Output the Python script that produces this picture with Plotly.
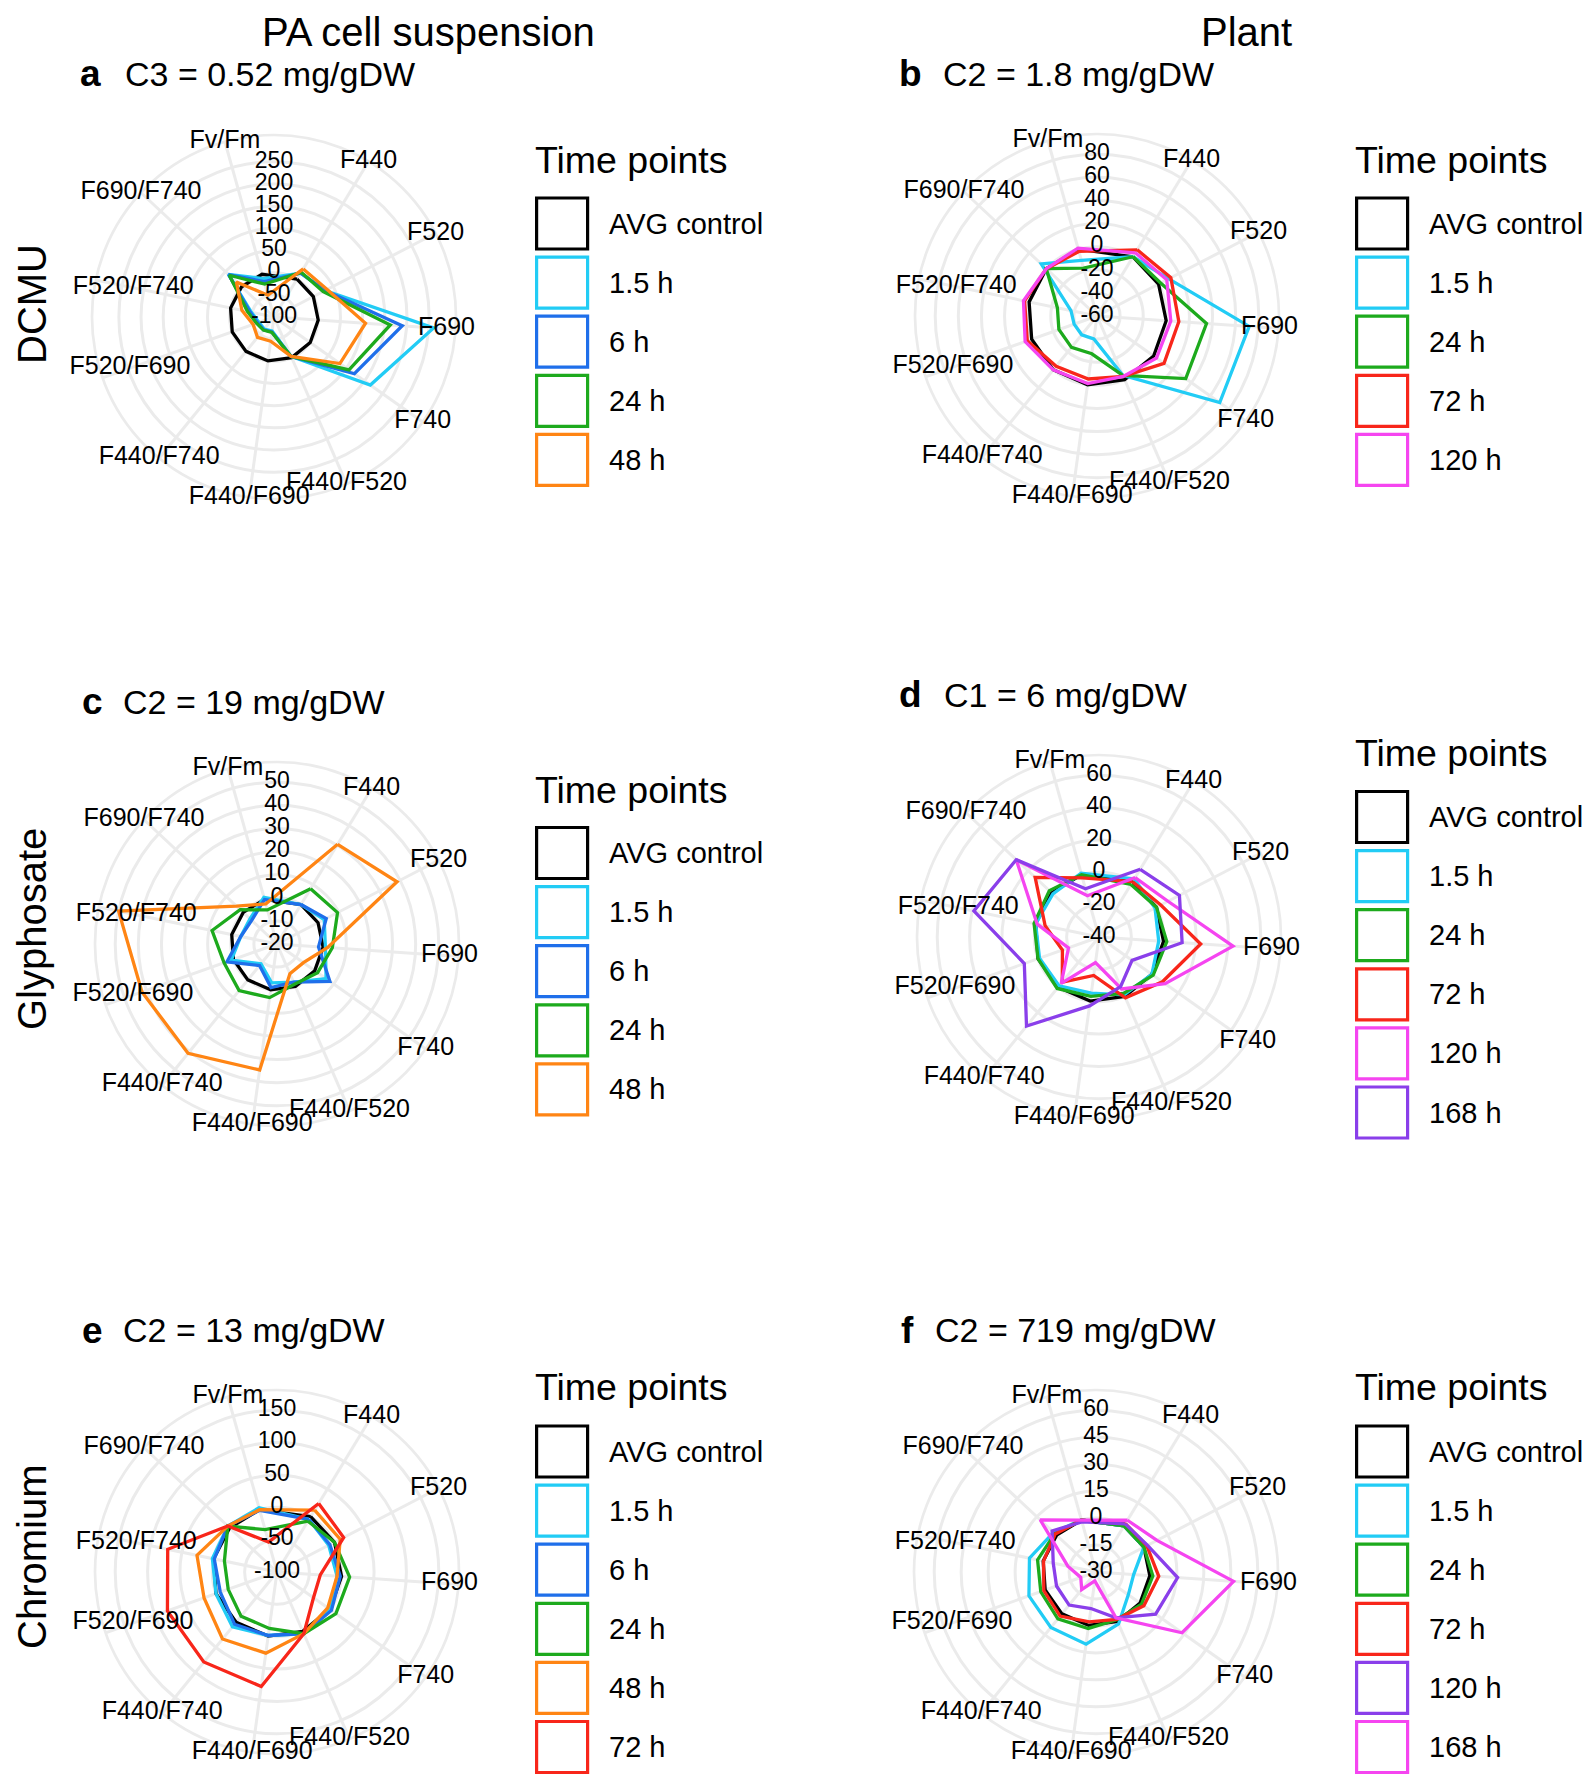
import plotly.graph_objects as go

# The page body has an 8 px margin, so the figure is made 16 px smaller and
# every reference pixel position is shifted by OFF.
OFF = 8
W, H = 1595 - 2 * OFF, 1784 - 2 * OFF
FONT = "Liberation Sans, Arial, Helvetica, sans-serif"
GRID = "#EBEBEB"

# ---------------- data ----------------
CATEGORIES = ["F440", "F520", "F690", "F740", "F440/F520", "F440/F690",
              "F440/F740", "F520/F690", "F520/F740", "F690/F740", "Fv/Fm"]

AVG_CONTROL = [0, 0, 0, 0, 0, 0, 0, 0, 0, 0, 0]

# a  DCMU, PA cell suspension
A_1_5H = [16, 30, 261, 166, -3, -68, -65, -64, -48, 41, -10]
A_6H = [16, 30, 190, 122, -3, -66, -63, -61, -45, 40, -17]
A_24H = [18, 25, 163, 107, -3, -65, -62, -58, -39, 38, -23]
A_48H = [27, 35, 107, 82, -3, -45, -41, -50, -26, 16, -49]
A_TICKS = [-100, -50, 0, 50, 100, 150, 200, 250]

# b  DCMU, plant
B_1_5H = [0, 10, 72, 70, -4, -40, -39, -39, -37, 6, -10]
B_24H = [0, 2, 35, 34, -4, -27, -25, -25, -25, 0, -17]
B_72H = [7, 12, 11, 11, -3, -5, -4, 4, 4, 0, -2]
B_120H = [4, 8, 4, 3, -3, -1, 0, 6, 5, 0, 1]
B_TICKS = [-60, -40, -20, 0, 20, 40, 60, 80]

# c  Glyphosate, PA cell suspension
C_1_5H = [0, 3, 1, 6, -2, -3, -9, 1, -4, -4, 1]
C_6H = [0, 4, -2, 8, -2, -1, -8, 3, -4, -5, 0]
C_24H = [8, 9.5, 4, 1.5, -1, 3.4, 6, 4.3, 8.7, 1.8, -4.7]
C_48H = [30.5, 38.5, 2, -6, -6, 35, 41, 42, 50, 4, -2]
C_TICKS = [-20, -10, 0, 10, 20, 30, 40, 50]

# d  Glyphosate, plant
D_1_5H = [2, -1, -3, 0, -1, -5, -1, -1, 0, -1, 1]
D_24H = [-2, 0, 2, 1, -2, -3, 1, 0, 1, 2, 0]
D_72H = [0, 3, 23, 8, 1, -16, -4, -16, -6, 14, -2]
D_120H = [3, 8, 43, 10, -5, -24, -3, -20, -1, 30, -13.5]
D_168H = [9, 16, 11.5, -15, -6.5, 3, 31, 9, 39, 30, -9]
D_TICKS = [-40, -20, 0, 20, 40, 60]

# e  Chromium, PA cell suspension
E_1_5H = [-5, -10, -7, 0, 4, -1, 9, 0, 2, 4, 3]
E_6H = [-5, -8, -2, 3, 4, -1, 4, -7, -1, 4, -1]
E_24H = [-8, 0, 12.5, 11.4, 4, -12, -12, -20, -17, 4, -32]
E_48H = [12, 10, -7, -4, 4, 26.5, 33.5, 19.6, 26.3, 4, 0]
E_72H = [24, 16, -33, -31, 4, 78.6, 79.3, 79.7, 72.5, 4, -52]
E_TICKS = [-100, -50, 0, 50, 100, 150]

# f  Chromium, plant
F_1_5H = [0, 0, -9, -8, 1.5, 10.5, 9.8, 9.6, 7.8, 2.3, 0]
F_24H = [0, 0, 1.7, 1, -1, 1.7, 3.6, 2.6, 3.2, 1.3, 0]
F_72H = [1.5, 1.8, 5, 2.6, -1.3, -2, 1.6, 0.8, -0.2, 1, 0]
F_120H = [1.3, 2.3, 15.5, 10.6, -2.2, -9.5, -6.3, -6.7, -5.7, 3.4, -1]
F_168H = [3.7, 8.2, 46.7, 28.6, -2.2, -25, -17.4, -21, -14, 12.4, 0]
F_TICKS = [-30, -15, 0, 15, 30, 45, 60]

# ---------------- styles ----------------
COL = {
    "AVG control": "#000000",
    "1.5 h": "#22CCF5",
    "6 h": "#1F6FEA",
    "24 h": "#1DAA1D",
    "48 h": "#FF8514",
    "72 h": "#F8261A",
    "magenta": "#F545F0",
    "purple": "#8A3FEA",
}
# radial position of each category label, as a fraction of the outer ring
LABEL_FRAC = [1.0, 1.0, 0.95, 1.0, 1.0, 1.0, 1.0, 0.84, 0.79, 1.0, 1.0]

panels = [
    dict(letter="a", title="C3 = 0.52 mg/gDW", cx=274, cy=317, rmin=-100, rmax=265, ticks=A_TICKS,
         letter_xy=(78, 74), title_x=123, leg_x=534, leg_title_y=160, leg_first=223.5,
         series=[("AVG control", AVG_CONTROL, COL["AVG control"]), ("1.5 h", A_1_5H, COL["1.5 h"]),
                 ("6 h", A_6H, COL["6 h"]), ("24 h", A_24H, COL["24 h"]), ("48 h", A_48H, COL["48 h"])]),
    dict(letter="b", title="C2 = 1.8 mg/gDW", cx=1097, cy=316, rmin=-60, rmax=80, ticks=B_TICKS,
         letter_xy=(897, 74), title_x=941, leg_x=1354, leg_title_y=160, leg_first=223.5,
         series=[("AVG control", AVG_CONTROL, COL["AVG control"]), ("1.5 h", B_1_5H, COL["1.5 h"]),
                 ("24 h", B_24H, COL["24 h"]), ("72 h", B_72H, COL["72 h"]), ("120 h", B_120H, COL["magenta"])]),
    dict(letter="c", title="C2 = 19 mg/gDW", cx=277, cy=944, rmin=-20, rmax=50, ticks=C_TICKS,
         letter_xy=(80, 702), title_x=121, leg_x=534, leg_title_y=790, leg_first=853,
         series=[("AVG control", AVG_CONTROL, COL["AVG control"]), ("1.5 h", C_1_5H, COL["1.5 h"]),
                 ("6 h", C_6H, COL["6 h"]), ("24 h", C_24H, COL["24 h"]), ("48 h", C_48H, COL["48 h"])]),
    dict(letter="d", title="C1 = 6 mg/gDW", cx=1099, cy=937, rmin=-40, rmax=60, ticks=D_TICKS,
         letter_xy=(897, 695), title_x=942, leg_x=1354, leg_title_y=753, leg_first=817,
         series=[("AVG control", AVG_CONTROL, COL["AVG control"]), ("1.5 h", D_1_5H, COL["1.5 h"]),
                 ("24 h", D_24H, COL["24 h"]), ("72 h", D_72H, COL["72 h"]),
                 ("120 h", D_120H, COL["magenta"]), ("168 h", D_168H, COL["purple"])]),
    dict(letter="e", title="C2 = 13 mg/gDW", cx=277, cy=1572, rmin=-100, rmax=150, ticks=E_TICKS,
         letter_xy=(80, 1330), title_x=121, leg_x=534, leg_title_y=1387, leg_first=1451.5,
         series=[("AVG control", AVG_CONTROL, COL["AVG control"]), ("1.5 h", E_1_5H, COL["1.5 h"]),
                 ("6 h", E_6H, COL["6 h"]), ("24 h", E_24H, COL["24 h"]),
                 ("48 h", E_48H, COL["48 h"]), ("72 h", E_72H, COL["72 h"])]),
    dict(letter="f", title="C2 = 719 mg/gDW", cx=1096, cy=1572, rmin=-30, rmax=60, ticks=F_TICKS,
         letter_xy=(899, 1330), title_x=933, leg_x=1354, leg_title_y=1387, leg_first=1451.5,
         series=[("AVG control", AVG_CONTROL, COL["AVG control"]), ("1.5 h", F_1_5H, COL["1.5 h"]),
                 ("24 h", F_24H, COL["24 h"]), ("72 h", F_72H, COL["72 h"]),
                 ("120 h", F_120H, COL["purple"]), ("168 h", F_168H, COL["magenta"])]),
]

R_PX = 182          # outer ring radius in px
LEG_PITCH = 59.1
SQ = 51
LW = 3.2


def px(x):
    return (x - OFF) / W


def py(y):
    return 1 - (y - OFF) / H


fig = go.Figure()
annotations = []
shapes = []
layout_polars = {}

for i, p in enumerate(panels):
    main = "polar" if i == 0 else f"polar{2 * i + 1}"
    over = f"polar{2 * i + 2}"
    rout = p["rmin"] + 1.125 * (p["rmax"] - p["rmin"])
    cx, cy = p["cx"], p["cy"]
    dom = dict(x=[px(cx - R_PX), px(cx + R_PX)], y=[py(cy + R_PX), py(cy - R_PX)])
    layout_polars[main] = dict(
        domain=dom,
        bgcolor="rgba(0,0,0,0)",
        angularaxis=dict(
            type="category", categoryorder="array", categoryarray=CATEGORIES,
            period=11.5, rotation=90 - 360 / 11.5, direction="clockwise",
            tickmode="array", tickvals=CATEGORIES,
            showticklabels=False, ticks="",
            showgrid=True, gridcolor=GRID, gridwidth=2.7,
            showline=True, linecolor=GRID, linewidth=2.7, layer="below traces",
        ),
        radialaxis=dict(
            range=[p["rmin"], rout], tickmode="array", tickvals=p["ticks"],
            showline=False, ticks="", showticklabels=False,
            showgrid=True, gridcolor=GRID, gridwidth=2.7, layer="below traces",
        ),
    )
    # overlay subplot that carries the radial tick labels on the vertical line
    layout_polars[over] = dict(
        domain=dom,
        bgcolor="rgba(0,0,0,0)",
        angularaxis=dict(visible=False, rotation=90, direction="clockwise", showgrid=False),
        radialaxis=dict(visible=False, range=[p["rmin"], rout], showgrid=False),
    )
    for label, vals, color in p["series"]:
        fig.add_trace(go.Scatterpolar(
            r=list(vals) + [vals[0]], theta=CATEGORIES + [CATEGORIES[0]],
            mode="lines", line=dict(color=color, width=3.3),
            name=label, subplot=main, showlegend=False, hoverinfo="skip",
        ))
    label_r = [p["rmin"] + f * (rout - p["rmin"]) for f in LABEL_FRAC]
    fig.add_trace(go.Scatterpolar(
        r=label_r, theta=CATEGORIES, mode="text", text=CATEGORIES,
        textposition="middle center", textfont=dict(size=25, color="black", family=FONT),
        cliponaxis=False, subplot=main, showlegend=False, hoverinfo="skip",
    ))
    fig.add_trace(go.Scatterpolar(
        r=p["ticks"], theta=[0] * len(p["ticks"]), mode="text",
        text=[str(t) for t in p["ticks"]],
        textposition="middle center", textfont=dict(size=23, color="black", family=FONT),
        cliponaxis=False, subplot=over, showlegend=False, hoverinfo="skip",
    ))

    # panel title: bold letter + concentration
    lx, ly = p["letter_xy"]
    annotations.append(dict(
        x=px(lx), y=py(ly), xref="paper", yref="paper", xanchor="left", yanchor="middle",
        text=f"<b>{p['letter']}</b>", showarrow=False,
        font=dict(size=37, color="black", family=FONT)))
    annotations.append(dict(
        x=px(p["title_x"]), y=py(ly), xref="paper", yref="paper", xanchor="left", yanchor="middle",
        text=p["title"], showarrow=False, font=dict(size=34, color="black", family=FONT)))

    # legend
    annotations.append(dict(
        x=px(p["leg_x"] - 1), y=py(p["leg_title_y"]), xref="paper", yref="paper",
        xanchor="left", yanchor="middle", text="Time points", showarrow=False,
        font=dict(size=37.5, color="black", family=FONT)))
    for k, (label, vals, color) in enumerate(p["series"]):
        yc = p["leg_first"] + k * LEG_PITCH
        x0 = p["leg_x"] + 1 + LW / 2
        shapes.append(dict(
            type="rect", xref="paper", yref="paper",
            x0=px(x0), x1=px(x0 + SQ), y0=py(yc + SQ / 2), y1=py(yc - SQ / 2),
            line=dict(color=color, width=LW), fillcolor="rgba(0,0,0,0)"))
        annotations.append(dict(
            x=px(p["leg_x"] + 73), y=py(yc), xref="paper", yref="paper",
            xanchor="left", yanchor="middle", text=label, showarrow=False,
            font=dict(size=29, color="black", family=FONT)))

# column headers: top-anchored at the figure's top edge
for text, x in [("PA cell suspension", 428), ("Plant", 1246)]:
    annotations.append(dict(
        x=px(x), y=1, xref="paper", yref="paper", xanchor="center", yanchor="top",
        text=text, showarrow=False, font=dict(size=40, color="black", family=FONT)))
# row headers: rotated, anchored at the figure's left edge
for text, y in [("DCMU", 304), ("Glyphosate", 929), ("Chromium", 1557)]:
    annotations.append(dict(
        x=0, y=py(y), xref="paper", yref="paper", xanchor="left", yanchor="middle",
        text=text, textangle=-90, showarrow=False,
        font=dict(size=40, color="black", family=FONT)))

fig.update_layout(
    width=W, height=H, margin=dict(l=0, r=0, t=0, b=0),
    paper_bgcolor="white", plot_bgcolor="white", showlegend=False,
    font=dict(family=FONT, color="black"),
    annotations=annotations, shapes=shapes, **layout_polars,
)

fig.write_html("out.html")
